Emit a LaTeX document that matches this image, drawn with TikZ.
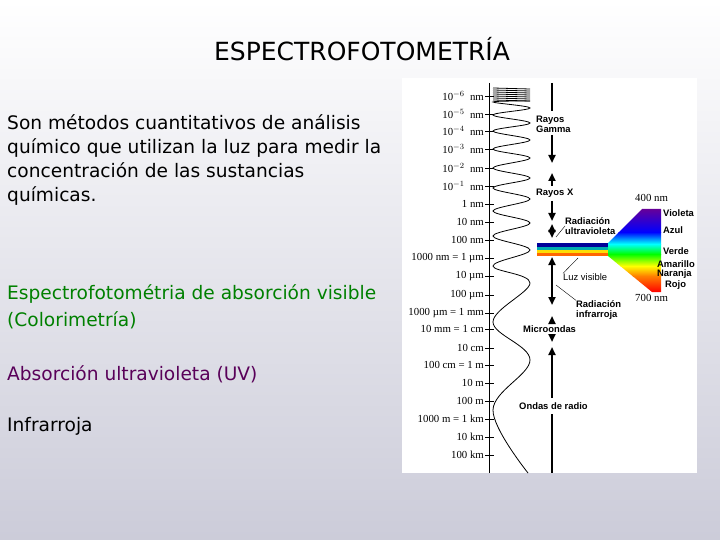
\documentclass[tikz,border=0pt]{standalone}
\usepackage{fontspec}
\usetikzlibrary{arrows.meta}
\setmainfont{DejaVu Sans}
\newfontfamily\tfont{Liberation Serif}
\newfontfamily\lfont{Liberation Sans}
\begin{document}
\begin{tikzpicture}[x=1pt,y=-1pt,
  body/.style={anchor=base west,font=\fontsize{18.6}{21}\selectfont,inner sep=0pt},
  tick/.style={anchor=east,font=\tfont\fontsize{10.8}{12}\selectfont,inner sep=1pt},
  cat/.style={anchor=west,font=\lfont\bfseries\fontsize{9.4}{10}\selectfont,inner sep=0pt,align=left},
  bar/.style={line width=2.4pt,>={Triangle[width=7pt,length=8pt]}},
  lead/.style={thin}]
\useasboundingbox (0,0) rectangle (720,540);
\shade[top color=white,middle color=white!85!blue!30!gray!40,bottom color=blue!15!gray!35] (0,0) rectangle (720,540);
\node (title) at (362,49) {\fontsize{25}{28}\selectfont ESPECTROFOTOMETRÍA};
\node[body] (t1) at (7,130) {Son métodos cuantitativos de análisis};
\node[body] (t2) at (7,154) {químico que utilizan la luz para medir la};
\node[body] (t3) at (7,178) {concentración de las sustancias};
\node[body] (t4) at (7,202) {químicas.};
\node[body,text=green!50!black] (g1) at (7,299) {Espectrofotométria de absorción visible};
\node[body,text=green!50!black] (g2) at (7,326) {(Colorimetría)};
\node[body,text=violet!70!black] (p1) at (7,380) {Absorción ultravioleta (UV)};
\node[body] (i1) at (7,431) {Infrarroja};
% chart
\fill[white] (402,78) rectangle (697,473);
\draw (489,83) -- (489,473);
\foreach \y/\l in {96/{10$^{-6}$\ \ nm},114/{10$^{-5}$\ \ nm},131/{10$^{-4}$\ \ nm},149/{10$^{-3}$\ \ nm},168/{10$^{-2}$\ \ nm},186/{10$^{-1}$\ \ nm},204/{1 nm},222/{10 nm},240/{100 nm},258/{1000 nm = 1 µm},276/{10 µm},295/{100 µm},313/{1000 µm = 1 mm},329/{10 mm = 1 cm},348/{10 cm},365/{100 cm = 1 m},383/{10 m},401/{100 m},419/{1000 m = 1 km},437/{10 km},455/{100 km}}{
  \draw (485,\y) -- (494,\y);
  \node[tick] at (485,\y) {\l};
}
% wave
\foreach \y in {88,90,...,100} \draw[line width=0.8pt] (493,\y) -- (530,\y+1);
\draw[line width=0.8pt] plot[smooth,tension=0.6] coordinates {(530,101) (493,102) (530,108) (493,115) (530,123) (493,131) (530,140) (493,149) (530,158) (493,168) (530,178) (493,188) (530,199) (493,211) (530,223) (493,236) (530,250) (493,266) (530,283) (493,322) (530,360) (493,410) (528,473)};
% bar
\draw[bar] (552,83) -- (552,111);
\draw[bar,->] (552,135) -- (552,163);
\draw[bar,<-] (552,173) -- (552,186);
\draw[bar,->] (552,201) -- (552,221);
\draw[bar,<->] (552,224) -- (552,238);
\draw[bar,<->] (552,257) -- (552,305);
\draw[bar,<-] (552,316) -- (552,323);
\draw[bar,->] (552,336) -- (552,342);
\draw[bar,<-] (552,347) -- (552,398);
\draw[bar] (552,414) -- (552,473);
% spectrum
\fill[blue!60!black] (537,243) rectangle (608,247);
\fill[cyan!60!green] (537,247) rectangle (608,250);
\fill[yellow!80!orange] (537,250) rectangle (608,253);
\fill[orange!80!red] (537,253) rectangle (608,256);
\begin{scope}
\clip (608,243) -- (642,209) -- (661,209) -- (661,292) -- (652,292) -- (608,256) -- cycle;
\shade[top color=violet!80!blue,bottom color=blue] (600,209) rectangle (662,232);
\shade[top color=blue,bottom color=cyan] (600,232) rectangle (662,244);
\shade[top color=cyan,bottom color=green] (600,244) rectangle (662,254);
\shade[top color=green,bottom color=yellow] (600,254) rectangle (662,266);
\shade[top color=yellow,bottom color=orange] (600,266) rectangle (662,276);
\shade[top color=orange,bottom color=red] (600,276) rectangle (662,292);
\end{scope}
\node[tick,anchor=west] (n400) at (634,198) {400 nm};
\node[tick,anchor=west] (n700) at (634,298) {700 nm};
\node[cat] (vi) at (663,213) {Violeta};
\node[cat] (az) at (663,230) {Azul};
\node[cat] (ve) at (663,251) {Verde};
\node[cat] (am) at (657,264) {Amarillo};
\node[cat] (na) at (657,274) {Naranja};
\node[cat] (ro) at (665,285) {Rojo};
\node[cat] (gam) at (536,124) {Rayos\\Gamma};
\node[cat] (rx) at (536,193) {Rayos X};
\node[cat] (uv) at (565,226) {Radiación\\ultravioleta};
\node[cat,font=\lfont\fontsize{9.4}{10}\selectfont] (lv) at (563,277) {Luz visible};
\node[cat] (ir) at (576,310) {Radiación\\infrarroja};
\node[cat] (mw) at (523,329) {Microondas};
\node[cat] (rad) at (519,406) {Ondas de radio};
\coordinate (uvp) at (556,237);
\coordinate (lvp) at (578,258);
\coordinate (irp) at (556,285);
\draw[lead] (uvp) -- (uv.west);
\draw[lead] (lvp) -- (lv.north west);
\draw[lead] (irp) -- (ir.north west);
\end{tikzpicture}
\end{document}
